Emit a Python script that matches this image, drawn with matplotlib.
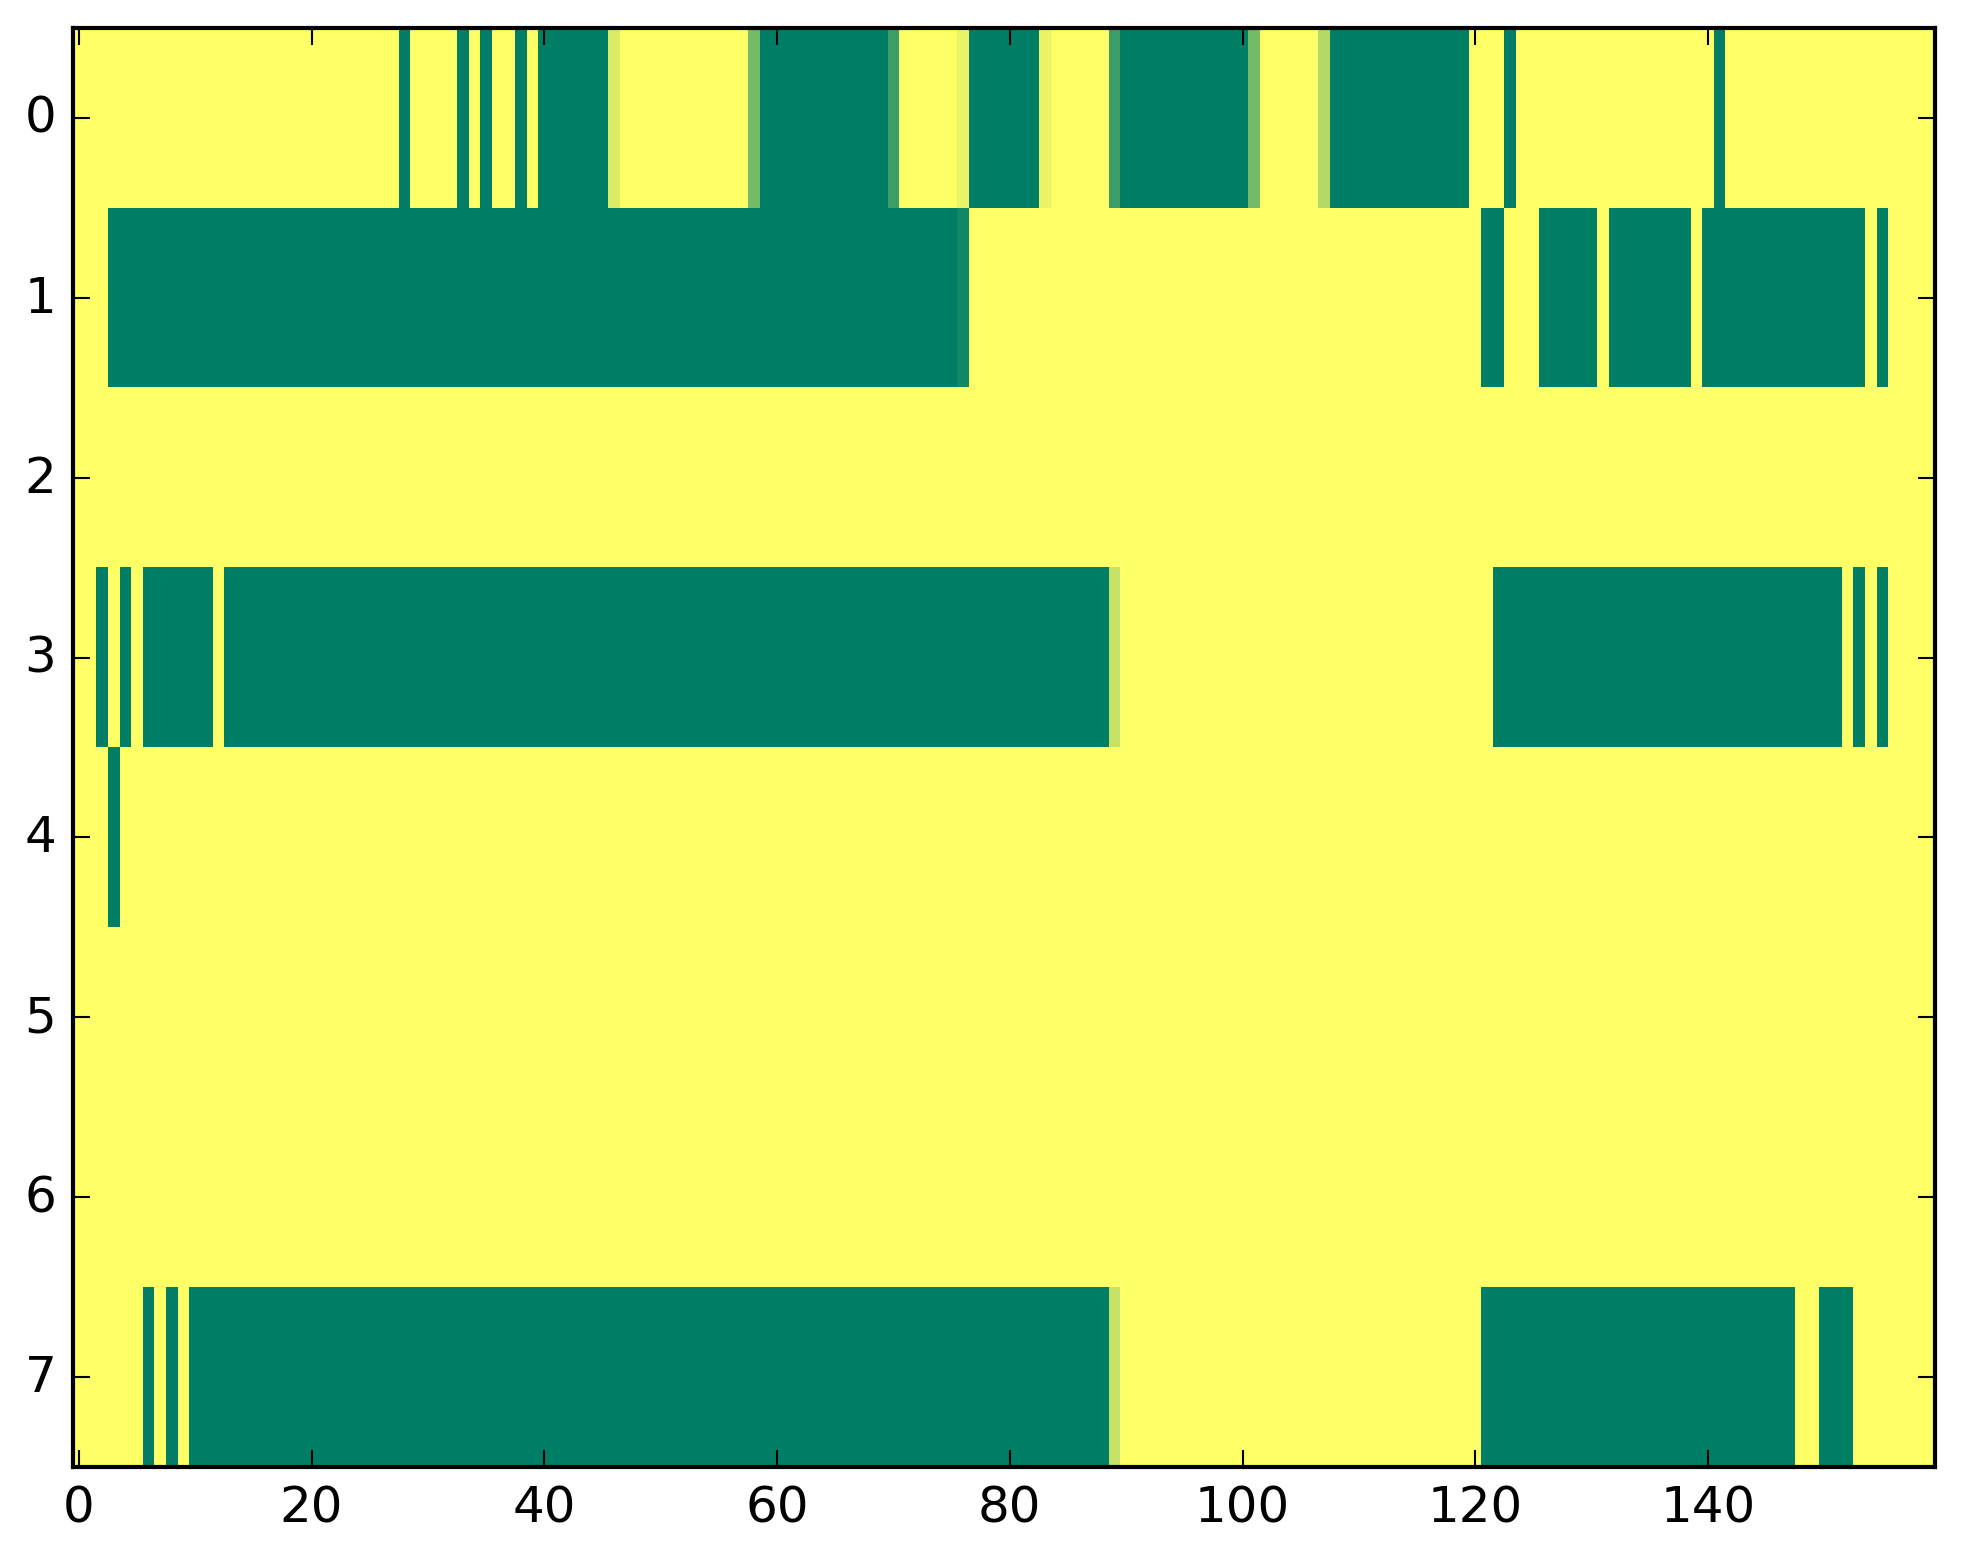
import numpy as np
import matplotlib
matplotlib.use("Agg")
import matplotlib.pyplot as plt

plt.style.use("classic")

n_cols = 160
row_labels = [0, 1, 2, 3, 4, 5, 6, 7]
x_ticks = [0, 20, 40, 60, 80, 100, 120, 140]

# Each row as runs: (first column, last column, value)
row0_runs = [(0, 27, 1.0), (28, 28, 0.0), (29, 32, 1.0), (33, 33, 0.0), (34, 34, 1.0),
             (35, 35, 0.0), (36, 37, 1.0), (38, 38, 0.0), (39, 39, 1.0), (40, 45, 0.0),
             (46, 46, 0.85), (47, 57, 1.0), (58, 58, 0.46), (59, 69, 0.0), (70, 70, 0.24),
             (71, 75, 1.0), (76, 76, 0.92), (77, 82, 0.0), (83, 83, 0.92), (84, 88, 1.0),
             (89, 89, 0.24), (90, 100, 0.0), (101, 101, 0.46), (102, 106, 1.0),
             (107, 107, 0.70), (108, 119, 0.0), (120, 122, 1.0), (123, 123, 0.0),
             (124, 140, 1.0), (141, 141, 0.0), (142, 159, 1.0)]
row1_runs = [(0, 2, 1.0), (3, 75, 0.0), (76, 76, 0.07), (77, 120, 1.0), (121, 122, 0.0),
             (123, 125, 1.0), (126, 130, 0.0), (131, 131, 1.0), (132, 138, 0.0),
             (139, 139, 1.0), (140, 153, 0.0), (154, 154, 1.0), (155, 155, 0.0),
             (156, 159, 1.0)]
row2_runs = [(0, 159, 1.0)]
row3_runs = [(0, 1, 1.0), (2, 2, 0.0), (3, 3, 1.0), (4, 4, 0.0), (5, 5, 1.0), (6, 11, 0.0),
             (12, 12, 1.0), (13, 88, 0.0), (89, 89, 0.77), (90, 121, 1.0), (122, 151, 0.0),
             (152, 152, 1.0), (153, 153, 0.0), (154, 154, 1.0), (155, 155, 0.0),
             (156, 159, 1.0)]
row4_runs = [(0, 2, 1.0), (3, 3, 0.0), (4, 159, 1.0)]
row5_runs = [(0, 159, 1.0)]
row6_runs = [(0, 159, 1.0)]
row7_runs = [(0, 5, 1.0), (6, 6, 0.0), (7, 7, 1.0), (8, 8, 0.0), (9, 9, 1.0), (10, 88, 0.0),
             (89, 89, 0.77), (90, 120, 1.0), (121, 147, 0.0), (148, 149, 1.0),
             (150, 152, 0.0), (153, 159, 1.0)]

all_runs = [row0_runs, row1_runs, row2_runs, row3_runs,
            row4_runs, row5_runs, row6_runs, row7_runs]

data = np.ones((len(all_runs), n_cols))
for r, runs in enumerate(all_runs):
    for a, b, v in runs:
        data[r, a:b + 1] = v

W, H, DPI = 1963, 1564, 300
fig = plt.figure(figsize=(W / DPI, H / DPI), dpi=DPI, facecolor="white")
ax = fig.add_axes([73 / W, (H - 1468) / H, 1862 / W, 1439 / H])
ax.imshow(data, cmap="summer", vmin=0, vmax=1, aspect="auto",
          interpolation="nearest")
ax.set_xlim(-0.5, n_cols - 0.5)
ax.set_ylim(len(all_runs) - 0.5, -0.5)
ax.set_xticks(x_ticks)
ax.set_yticks(row_labels)
ax.tick_params(labelsize=12)
fig.savefig("out.png", dpi=DPI, facecolor="white")
